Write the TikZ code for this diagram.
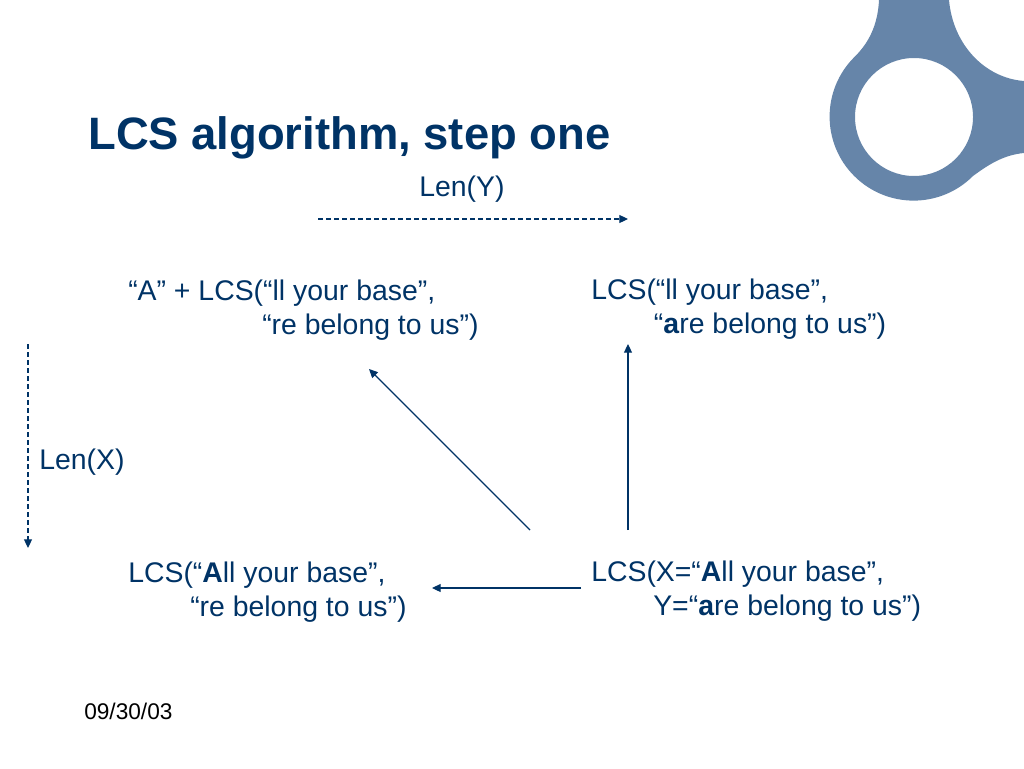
\documentclass[tikz,border=0pt]{standalone}
\usepackage{fontspec}
\setmainfont{Liberation Sans}
\usetikzlibrary{arrows.meta}
\definecolor{navy}{HTML}{003366}
\definecolor{logoblue}{HTML}{6685A9}
\tikzset{
  txt/.style={anchor=north west,inner sep=0pt,align=left,text=navy,font=\fontsize{21.3pt}{25.5pt}\selectfont},
  link/.style={draw=navy,line width=0.8pt,-{Triangle[length=6.5pt,width=6pt]}},
  dashlink/.style={link,dash pattern=on 3.6pt off 2.4pt}
}
\begin{document}
\begin{tikzpicture}[x=0.75pt,y=-0.75pt]
\useasboundingbox (0,0) rectangle (1024,768);
% logo
\fill[logoblue,even odd rule] (879,0) -- (949,0)
  .. controls (953,45) and (985,78) .. (1024,81) -- (1024,153)
  .. controls (1003,155) and (988,165) .. (973,176)
  arc[start angle=-45,end angle=-225,radius=63pt]
  .. controls (872,40) and (878,20) .. (879,0) -- cycle
  (914,117) circle[radius=44.25pt];
\node[txt,anchor=base west,font=\bfseries\fontsize{34.05pt}{40pt}\selectfont] (title) at (88,149) {LCS algorithm, step one};
\node[txt,anchor=base west] (leny) at (419,196) {Len(Y)};
\node[txt,anchor=base west] (lenx) at (39,469) {Len(X)};
\node[txt] (ul) at (128,280) {“A” + LCS(“ll your base”,\\\hspace*{100.5pt}“re belong to us”)};
\node[txt] (ur) at (591,279) {LCS(“ll your base”,\\\hspace*{47pt}“\textbf{a}re belong to us”)};
\node[txt] (ll) at (128,562) {LCS(“\textbf{A}ll your base”,\\\hspace*{46.5pt}“re belong to us”)};
\node[txt] (lr) at (591,561) {LCS(X=“\textbf{A}ll your base”,\\\hspace*{46.5pt}Y=“\textbf{a}re belong to us”)};
\node[anchor=base west,inner sep=0pt,text=black,font=\fontsize{17pt}{20pt}\selectfont] (date) at (84,719) {09/30/03};
\coordinate (ya) at (318,219); \coordinate (yb) at (628,219);
\coordinate (xa) at (28,344); \coordinate (xb) at (28,548);
\coordinate (da) at (530,530); \coordinate (db) at (369,369);
\coordinate (va) at (628,530); \coordinate (vb) at (628,344);
\coordinate (ha) at (581,588); \coordinate (hb) at (432,588);
\draw[dashlink] (ya) -- (yb);
\draw[dashlink] (xa) -- (xb);
\draw[link] (da) -- (db);
\draw[link] (va) -- (vb);
\draw[link] (ha) -- (hb);
\end{tikzpicture}
\end{document}
